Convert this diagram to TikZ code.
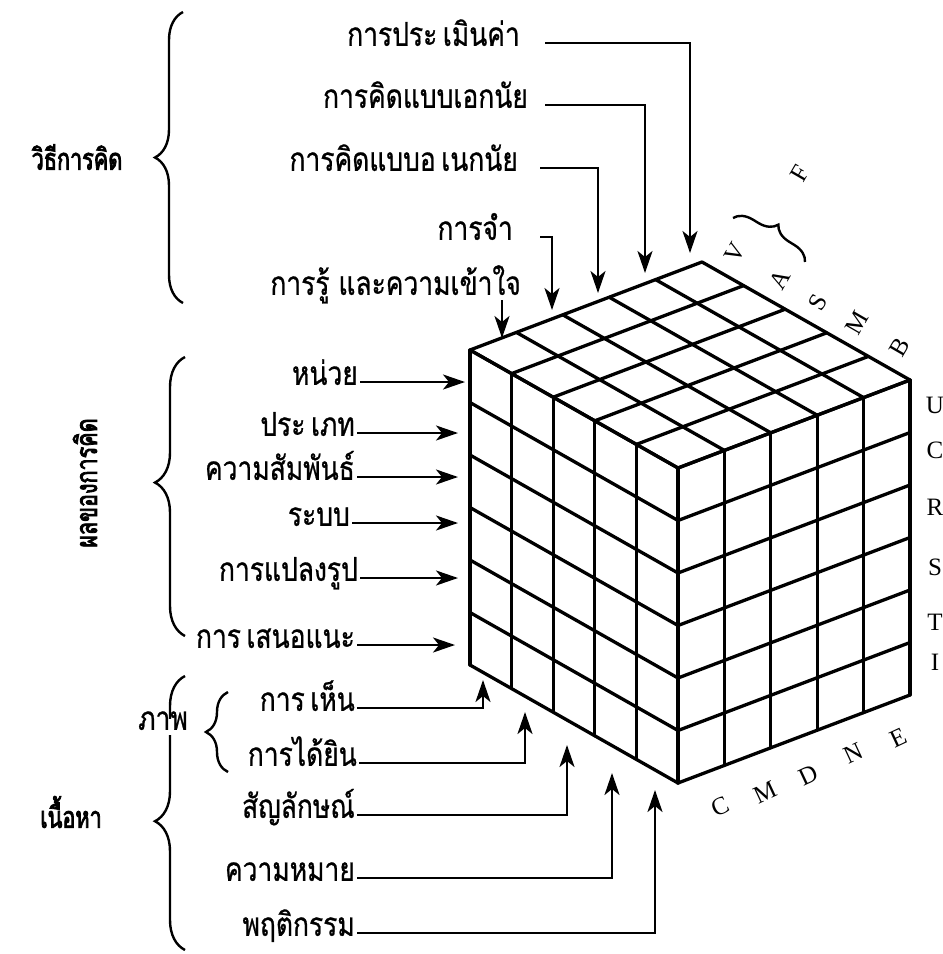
\documentclass[tikz,border=0pt]{standalone}
\usepackage{fontspec}
\setmainfont{Liberation Serif}
\newfontfamily\thaifont[Script=Thai,FakeBold=0.7,FakeStretch=0.8]{Loma}
\newfontfamily\thaihead[Script=Thai,FakeBold=2.6,FakeStretch=0.72]{Loma}
\usetikzlibrary{arrows.meta,calc,decorations.pathreplacing}

\begin{document}
\begin{tikzpicture}[x=1pt, y=-1pt,
    item/.style={font=\thaifont\fontsize{33}{36}\selectfont, anchor=east, inner sep=2pt, text height=0.87em, text depth=0.3em},
    head/.style={font=\thaihead\fontsize{30}{34}\selectfont, inner sep=2pt},
    axis/.style={font=\fontsize{25}{28}\selectfont, inner sep=0pt},
    grid/.style={line width=3.3pt, line cap=round, line join=round},
    arr/.style={-{Stealth[length=22pt,width=15pt,inset=6pt]}, line width=2.5pt},
    brc/.style={decorate, decoration={brace, amplitude=#1}, line width=2.4pt},
    brc/.default=28pt
  ]
  \useasboundingbox (0,0) rectangle (943,954);

  % cube corners
  \coordinate (L) at (470,350);
  \coordinate (F) at (678,468);
  \coordinate (R) at (910,380);
  \coordinate (K) at (702,262);

  % left face
  \foreach \i in {0,...,5} \draw[grid] ($(L)!\i/5!(F)$) -- ++(0,315);
  \foreach \j in {0,...,6} \draw[grid] ($(L)+(0,\j*52.5)$) -- ($(F)+(0,\j*52.5)$);
  % right face
  \foreach \i in {0,...,5} \draw[grid] ($(F)!\i/5!(R)$) -- ++(0,315);
  \foreach \j in {0,...,6} \draw[grid] ($(F)+(0,\j*52.5)$) -- ($(R)+(0,\j*52.5)$);
  % top face
  \foreach \i in {0,...,5} {
    \draw[grid] ($(L)!\i/5!(K)$) -- ($(F)!\i/5!(R)$);
    \draw[grid] ($(L)!\i/5!(F)$) -- ($(K)!\i/5!(R)$);
  }

  % axis letters
  \foreach \l/\y [count=\k] in {U/405,C/450,R/507,S/567,T/622,I/662}
    \node[axis] (prod\k) at (935,\y) {\l};
  \foreach \l/\x/\y [count=\k] in {C/720/807,M/765/792,D/808/775,N/853/753,E/898/738}
    \node[axis, rotate=25] (oper\k) at (\x,\y) {\l};
  \foreach \l/\x/\y [count=\k] in {V/735/253,A/780/280,S/818/302,M/857/323,B/900/347}
    \node[axis, rotate=60] (cont\k) at (\x,\y) {\l};
  \node[axis, rotate=60] (fig) at (800,173) {F};
  \draw[brc=18pt] (733,218) -- (805,262);

  % operations (top)
  \node[item] (t1) at (522,43)  {การประ\,เมินค่า};
  \node[item] (t2) at (530,105) {การคิดแบบเอกนัย};
  \node[item] (t3) at (520,168) {การคิดแบบอ\,เนกนัย};
  \node[item] (t4) at (515,237) {การจำ};
  \node[item] (t5) at (523,292) {การรู้ และความเข้าใจ};
  \coordinate (te1) at (690,253);
  \coordinate (te2) at (645,273);
  \coordinate (te3) at (598,293);
  \coordinate (te4) at (552,310);
  \coordinate (te5) at (502,338);
  \draw[arr] ([xshift=23pt]t1.east) -| (te1);
  \draw[arr] ([xshift=15pt]t2.east) -| (te2);
  \draw[arr] ([xshift=20pt]t3.east) -| (te3);
  \draw[arr] ([xshift=25pt]t4.east) -| (te4);
  \draw[arr] (t5.south -| te5) -- (te5);

  % products (left)
  \node[item] (l1) at (360,382) {หน่วย};
  \node[item] (l2) at (357,433) {ประ\,เภท};
  \node[item] (l3) at (357,477) {ความสัมพันธ์};
  \node[item] (l4) at (352,523) {ระบบ};
  \node[item] (l5) at (360,578) {การแปลงรูป};
  \node[item] (l6) at (357,645) {การ\,เสนอแนะ};
  \foreach \k/\x in {1/465,2/458,3/458,4/458,5/458,6/455} {
    \coordinate (le\k) at (\x,0 |- l\k);
    \draw[arr] (l\k) -- (le\k);
  }

  % contents (bottom)
  \node[item] (b1) at (357,708) {การ\,เห็น};
  \node[item] (b2) at (359,763) {การได้ยิน};
  \node[item] (b3) at (357,815) {สัญลักษณ์};
  \node[item] (b4) at (357,878) {ความหมาย};
  \node[item] (b5) at (357,933) {พฤติกรรม};
  \coordinate (be1) at (483,680);
  \coordinate (be2) at (525,712);
  \coordinate (be3) at (567,745);
  \coordinate (be4) at (612,773);
  \coordinate (be5) at (655,790);
  \foreach \k in {1,...,5} \draw[arr] (b\k) -| (be\k);

  % groups
  \draw[brc] (183,303) -- (183,12);
  \node[head] (gop) at (77,157) {วิธีการคิด};
  \draw[brc=30pt, decoration={aspect=0.55}] (185,636) -- (185,357);
  \node[head, rotate=90] (gpr) at (85,483) {ผลของการคิด};
  \draw[brc=30pt, decoration={aspect=0.47}] (185,950) -- (185,676);
  \node[head] (gco) at (71,812) {เนื้อหา};
  \node[item, anchor=center, fill=white] (gim) at (163,727) {ภาพ};
  \draw[brc=22pt] (228,772) -- (228,692);
\end{tikzpicture}
\end{document}
